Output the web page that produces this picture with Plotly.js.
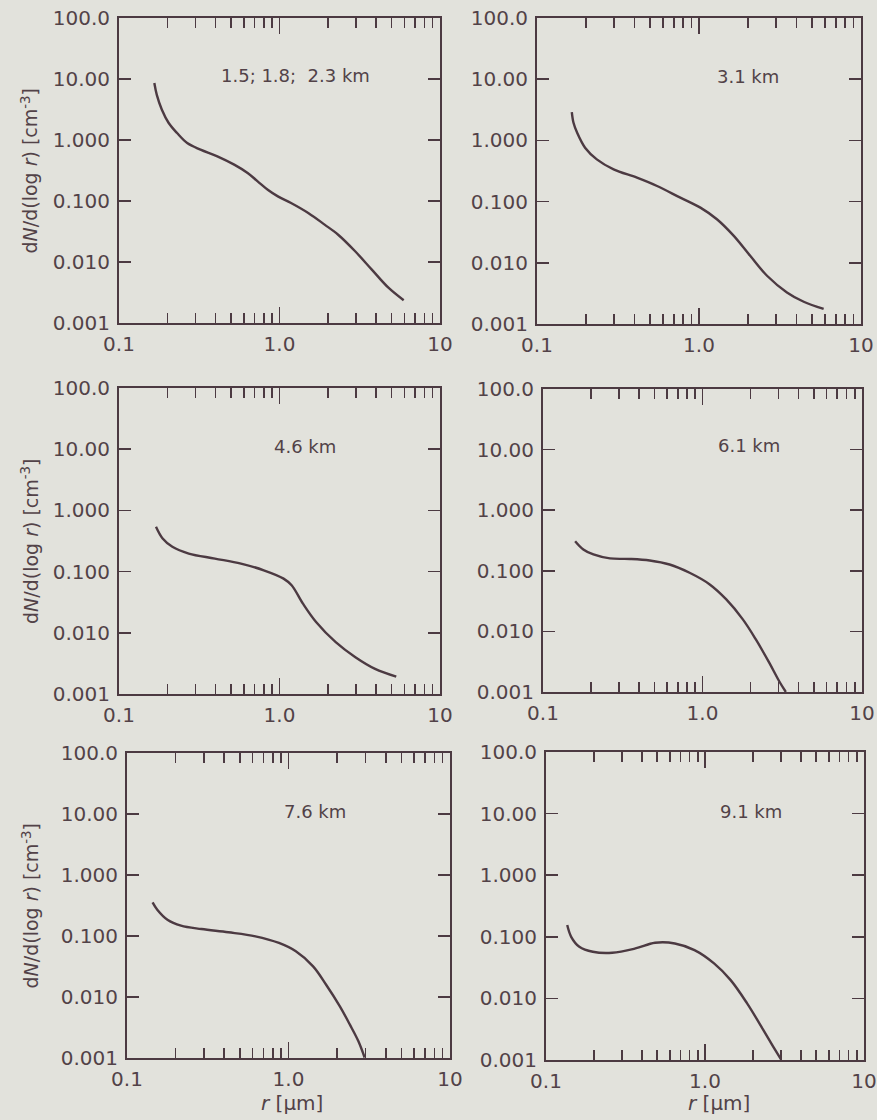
<!DOCTYPE html>
<html>
<head>
<meta charset="utf-8">
<script src="https://cdn.plot.ly/plotly-3.0.1.min.js"></script>
<style>
  html, body { margin: 0; padding: 0; background: #e2e2dc; }
  #chart { width: 877px; height: 1120px; }
</style>
</head>
<body>
<div id="chart"></div>
<script>
// Panel labels (altitudes)
const panelLabels = ["1.5; 1.8;  2.3 km", "3.1 km", "4.6 km", "6.1 km", "7.6 km", "9.1 km"];

// Radius r [µm] and dN/d(log r) [cm^-3] for each panel
const r1 = [0.166, 0.172, 0.185, 0.204, 0.23, 0.266, 0.322, 0.41, 0.522, 0.633, 0.731, 0.845, 0.977, 1.18, 1.51, 1.91, 2.32, 2.96, 3.76, 4.79, 5.94];
const n1 = [8.6, 5.5, 3.14, 1.9, 1.3, 0.89, 0.695, 0.54, 0.394, 0.288, 0.21, 0.153, 0.119, 0.0927, 0.0636, 0.041, 0.028, 0.015, 0.0075, 0.00375, 0.00236];

const r2 = [0.164, 0.168, 0.177, 0.198, 0.234, 0.297, 0.414, 0.551, 0.767, 1.02, 1.29, 1.64, 2.07, 2.63, 3.49, 4.43, 5.88];
const n2 = [2.9, 1.94, 1.33, 0.76, 0.49, 0.337, 0.246, 0.18, 0.116, 0.0798, 0.0515, 0.0275, 0.013, 0.00614, 0.00328, 0.00231, 0.00176];

const r3 = [0.17, 0.187, 0.215, 0.272, 0.396, 0.575, 0.798, 1.06, 1.19, 1.40, 1.69, 2.24, 2.97, 3.94, 5.34];
const n3 = [0.54, 0.347, 0.254, 0.197, 0.163, 0.135, 0.105, 0.0768, 0.0597, 0.0299, 0.015, 0.00703, 0.00399, 0.00257, 0.00192];

const r4 = [0.159, 0.179, 0.207, 0.263, 0.351, 0.467, 0.622, 0.83, 1.11, 1.41, 1.79, 2.16, 2.62, 3.02, 3.33];
const n4 = [0.308, 0.225, 0.186, 0.16, 0.157, 0.148, 0.127, 0.0927, 0.0596, 0.0337, 0.0158, 0.00738, 0.00305, 0.00152, 0.001];

const r5 = [0.144, 0.154, 0.178, 0.216, 0.289, 0.424, 0.624, 0.873, 1.11, 1.42, 1.71, 2.08, 2.40, 2.71, 2.96];
const n5 = [0.356, 0.27, 0.185, 0.148, 0.13, 0.115, 0.0988, 0.0768, 0.0561, 0.0318, 0.0159, 0.00703, 0.00352, 0.00188, 0.00102];

const r6 = [0.136, 0.144, 0.162, 0.197, 0.261, 0.365, 0.485, 0.646, 0.859, 1.14, 1.45, 1.84, 2.33, 2.69, 3.0];
const n6 = [0.155, 0.1, 0.0689, 0.0571, 0.055, 0.0647, 0.08, 0.078, 0.0608, 0.037, 0.0198, 0.0083, 0.00306, 0.00164, 0.00103];

// Tick labels
const xTickVals = [0.1, 1, 10];
const xTickText = ["0.1", "1.0", "10"];
const xMinorVals = [0.2, 0.3, 0.4, 0.5, 0.6, 0.7, 0.8, 0.9, 2, 3, 4, 5, 6, 7, 8, 9];
const yTickVals = [0.001, 0.01, 0.1, 1, 10, 100];
const yTickText = ["0.001", "0.010", "0.100", "1.000", "10.00", "100.0"];

const yTitle = "d<i>N</i>/d(log <i>r</i>) [cm<sup>-3</sup>]";
const xTitle = "<i>r</i> [μm]";

const rs = [r1, r2, r3, r4, r5, r6];
const ns = [n1, n2, n3, n4, n5, n6];

// Layout geometry (pixels in 877x1120 page)
const W = 877, H = 1120;
const boxes = [
  {l: 119, r: 440, t: 18, b: 323},
  {l: 537, r: 861, t: 18, b: 324},
  {l: 119, r: 440, t: 388, b: 694},
  {l: 543, r: 862, t: 389, b: 692},
  {l: 127, r: 450, t: 753, b: 1058},
  {l: 546, r: 864, t: 752, b: 1060}
];
// label positions in data coords (r, N)
const labelPos = [[1.25, 11.5], [2.0, 11.0], [1.45, 11.0], [1.95, 11.5], [1.45, 11.0], [1.95, 11.0]];

const ink = "#4c3a42";
const textCol = "#524248";
const bg = "#e2e2dc";
const fontFam = "DejaVu Sans, sans-serif";

const traces = [];
const layout = {
  width: W, height: H,
  margin: {l: 0, r: 0, t: 0, b: 0},
  paper_bgcolor: bg, plot_bgcolor: bg,
  showlegend: false,
  font: {family: fontFam, color: textCol, size: 18},
  annotations: []
};

for (let i = 0; i < 6; i++) {
  const s = i === 0 ? "" : String(i + 1);
  const b = boxes[i];
  traces.push({
    x: rs[i], y: ns[i],
    xaxis: "x" + s, yaxis: "y" + s,
    type: "scatter", mode: "lines",
    line: {color: ink, width: 2.4, shape: "spline", smoothing: 1},
    hoverinfo: "skip"
  });
  layout["xaxis" + s] = {
    type: "log", range: [-1, 1],
    domain: [b.l / W, b.r / W],
    anchor: "y" + s,
    showgrid: false, zeroline: false,
    showline: true, linecolor: ink, linewidth: 2, mirror: "allticks",
    ticks: "inside", ticklen: 16, tickwidth: 1.6, tickcolor: ink,
    tickmode: "array", tickvals: xTickVals, ticktext: xTickText,
    tickfont: {family: fontFam, size: 20, color: textCol},
    ticklabeloverflow: "allow", ticklabelstandoff: 2,
    minor: {tickmode: "array", tickvals: xMinorVals, ticks: "inside", ticklen: 10, tickwidth: 1.6, tickcolor: ink, showgrid: false},
    fixedrange: true
  };
  layout["yaxis" + s] = {
    type: "log", range: [-3, 2],
    domain: [1 - b.b / H, 1 - b.t / H],
    anchor: "x" + s,
    showgrid: false, zeroline: false,
    showline: true, linecolor: ink, linewidth: 2, mirror: "allticks",
    ticks: "inside", ticklen: 12, tickwidth: 1.6, tickcolor: ink,
    tickmode: "array", tickvals: yTickVals, ticktext: yTickText,
    tickfont: {family: fontFam, size: 20, color: textCol},
    ticklabeloverflow: "allow", ticklabelstandoff: 3,
    fixedrange: true
  };
  layout.annotations.push({
    xref: "x" + s, yref: "y" + s,
    x: Math.log10(labelPos[i][0]), y: Math.log10(labelPos[i][1]),
    xanchor: "center", yanchor: "middle",
    text: panelLabels[i], showarrow: false,
    font: {family: fontFam, size: 18, color: textCol}
  });
  if (i % 2 === 0) {
    layout.annotations.push({
      xref: "paper", yref: "paper",
      x: 30 / W, y: 1 - ((b.t + b.b) / 2) / H,
      xanchor: "center", yanchor: "middle",
      text: yTitle, textangle: -90, showarrow: false,
      font: {family: fontFam, size: 19, color: textCol}
    });
  }
  if (i >= 4) {
    layout.annotations.push({
      xref: "paper", yref: "paper",
      x: (i === 4 ? 292 : 719) / W, y: 1 - 1103 / H,
      xanchor: "center", yanchor: "middle",
      text: xTitle, showarrow: false,
      font: {family: fontFam, size: 20, color: textCol}
    });
  }
}

Plotly.newPlot("chart", traces, layout, {staticPlot: true, displayModeBar: false});
</script>
</body>
</html>
